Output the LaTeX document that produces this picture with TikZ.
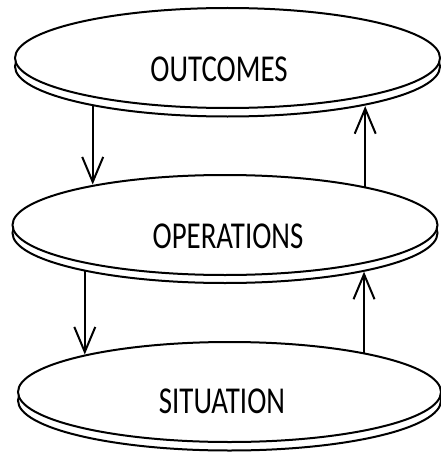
\documentclass[tikz,border=0pt]{standalone}
\usepackage{fontspec}
\setmainfont{Carlito}
\usetikzlibrary{arrows.meta,shapes.geometric}
\begin{document}
\begin{tikzpicture}[x=1pt,y=1pt,
  face/.style={ellipse,draw=black,line width=2pt,fill=white,
    inner sep=0pt,outer sep=0pt,minimum width=425pt,minimum height=100pt},
  rim/.style={face},
  lbl/.style={font=\fontsize{38}{38}\selectfont,inner sep=0pt},
  flow/.style={line width=2pt,-{Straight Barb[length=25pt,width=21pt,line width=2pt]}}]
\useasboundingbox (0,0) rectangle (441,-452);

% top disc
\node[rim]  (outR) at (227.5,-66.5) {};
\node[face] (outF) at (227.5,-58) {};
\node[lbl]  (outT) at (219,-69) {\scalebox{0.76}[1]{OUTCOMES}};

% middle disc
\node[rim]  (opsR) at (225,-233) {};
\node[face] (opsF) at (225,-225) {};
\node[lbl]  (opsT) at (228,-236) {\scalebox{0.76}[1]{OPERATIONS}};

% bottom disc
\node[rim,minimum width=423pt]  (sitR) at (229.5,-400.5) {};
\node[face,minimum width=423pt] (sitF) at (229.5,-392) {};
\node[lbl]  (sitT) at (222,-401) {\scalebox{0.76}[1]{SITUATION}};

% connectors between the discs
\draw[flow] (outR.196.84) -- (outR.196.84 |- opsF.162.65);
\draw[flow] (opsF.15.8)   -- (opsF.15.8 |- outR.343.74);
\draw[flow] (opsR.195.62) -- (opsR.195.62 |- sitF.165.28);
\draw[flow] (sitF.16.4)   -- (sitF.16.4 |- opsR.344.38);
\end{tikzpicture}
\end{document}
